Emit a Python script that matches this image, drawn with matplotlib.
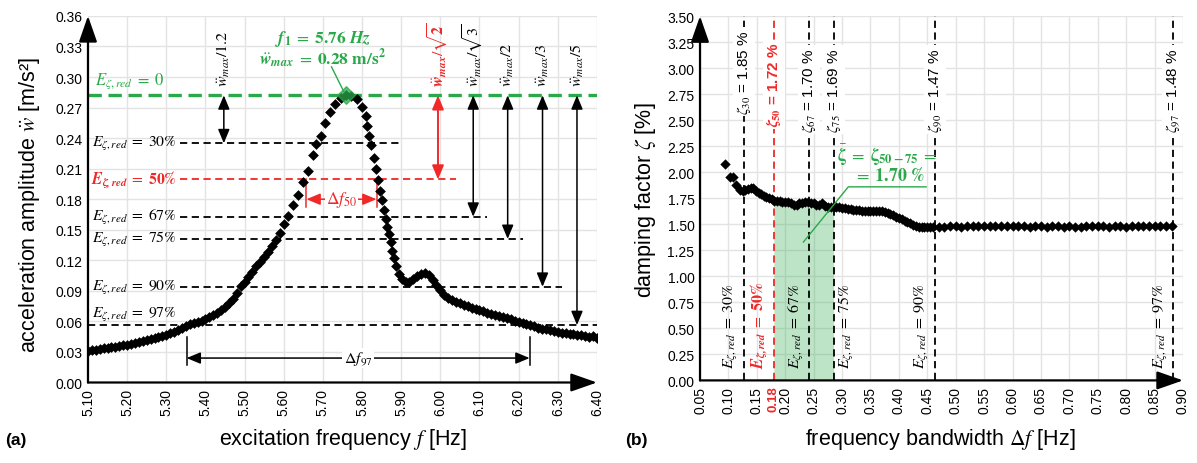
"""Resonance peak (a) and damping factor vs. bandwidth (b)."""

import matplotlib

matplotlib.use("Agg")
import matplotlib.pyplot as plt

plt.rcParams["font.family"] = ["Liberation Sans", "DejaVu Sans"]
plt.rcParams["mathtext.fontset"] = "stix"

GREEN = "#2aa84a"
RED = "#f02828"
GRID = "#e3e3e3"
EQ = r"\;=\;"

# (a) measured acceleration amplitude over excitation frequency
FREQ = [
    5.100, 5.110, 5.120, 5.130, 5.140, 5.150, 5.160, 5.170, 5.180, 5.190,
    5.200, 5.210, 5.220, 5.230, 5.240, 5.250, 5.260, 5.270, 5.280, 5.290,
    5.300, 5.310, 5.320, 5.330, 5.340, 5.350, 5.360, 5.370, 5.380, 5.390,
    5.400, 5.410, 5.420, 5.430, 5.440, 5.450, 5.460, 5.470, 5.480, 5.490,
    5.500, 5.510, 5.520, 5.530, 5.540, 5.550, 5.560, 5.570, 5.580, 5.590,
    5.600, 5.611, 5.624, 5.637, 5.650, 5.663, 5.676, 5.683, 5.694, 5.706,
    5.719, 5.732, 5.745, 5.760, 5.773, 5.786, 5.799, 5.809, 5.812, 5.817,
    5.822, 5.830, 5.835, 5.840, 5.846, 5.850, 5.855, 5.860, 5.864, 5.868,
    5.873, 5.876, 5.881, 5.887, 5.895, 5.903, 5.912, 5.920, 5.930, 5.940,
    5.950, 5.960, 5.970, 5.980, 5.990, 6.000, 6.010, 6.020, 6.030, 6.040,
    6.050, 6.060, 6.070, 6.080, 6.090, 6.100, 6.110, 6.120, 6.130, 6.140,
    6.150, 6.160, 6.170, 6.180, 6.190, 6.200, 6.210, 6.220, 6.230, 6.240,
    6.250, 6.260, 6.270, 6.280, 6.290, 6.300, 6.310, 6.320, 6.330, 6.340,
    6.350, 6.360, 6.370, 6.380, 6.390, 6.400,
]
ACC = [
    0.031, 0.032, 0.032, 0.033, 0.034, 0.034, 0.035, 0.035, 0.036, 0.037,
    0.037, 0.038, 0.039, 0.040, 0.041, 0.042, 0.043, 0.044, 0.045, 0.046,
    0.047, 0.049, 0.050, 0.052, 0.054, 0.055, 0.057, 0.058, 0.059, 0.060,
    0.062, 0.064, 0.066, 0.068, 0.071, 0.074, 0.078, 0.082, 0.088, 0.095,
    0.099, 0.104, 0.109, 0.114, 0.118, 0.123, 0.128, 0.134, 0.140, 0.147,
    0.156, 0.164, 0.174, 0.184, 0.197, 0.208, 0.223, 0.234, 0.242, 0.255,
    0.266, 0.274, 0.279, 0.282, 0.281, 0.278, 0.271, 0.262, 0.252, 0.242,
    0.233, 0.220, 0.210, 0.199, 0.188, 0.179, 0.169, 0.161, 0.153, 0.146,
    0.138, 0.129, 0.122, 0.114, 0.107, 0.102, 0.099, 0.099, 0.102, 0.105,
    0.107, 0.108, 0.106, 0.101, 0.096, 0.091, 0.086, 0.083, 0.081, 0.079,
    0.078, 0.076, 0.075, 0.073, 0.072, 0.071, 0.070, 0.068, 0.067, 0.066,
    0.065, 0.064, 0.063, 0.062, 0.060, 0.059, 0.058, 0.057, 0.056, 0.055,
    0.054, 0.053, 0.053, 0.052, 0.051, 0.050, 0.049, 0.049, 0.048, 0.048,
    0.047, 0.047, 0.046, 0.045, 0.046, 0.044,
]

F_PEAK = 5.76
W_MAX = 0.282
LEVEL_PCT = ["30", "50", "67", "75", "90", "97"]
LEVEL_DIV = [1.2, 2 ** 0.5, 3 ** 0.5, 2.0, 3.0, 5.0]
LEVEL_END = [5.90, 6.04, 6.12, 6.21, 6.31, 6.40]
ARROW_X = [5.447, 5.994, 6.084, 6.172, 6.261, 6.349]
ARROW_TXT = [
    r"$\ddot{w}_{max}/1.2$",
    r"$\ddot{\mathbfit{w}}_{\mathbfit{max}}/\mathbf{\sqrt{2}}$",
    r"$\ddot{w}_{max}/\sqrt{3}$",
    r"$\ddot{w}_{max}/2$",
    r"$\ddot{w}_{max}/3$",
    r"$\ddot{w}_{max}/5$",
]
DF50 = (5.658, 5.837)
DF97 = (5.352, 6.228)

# (b) damping factor over frequency bandwidth
BANDWIDTH = [
    0.094, 0.103, 0.108, 0.114, 0.121, 0.126, 0.130, 0.135, 0.140, 0.144,
    0.149, 0.154, 0.158, 0.163, 0.167, 0.172, 0.176, 0.180, 0.185, 0.190,
    0.195, 0.200, 0.205, 0.210, 0.215, 0.220, 0.225, 0.230, 0.235, 0.240,
    0.245, 0.250, 0.255, 0.260, 0.265, 0.270, 0.275, 0.280, 0.285, 0.290,
    0.295, 0.300, 0.305, 0.310, 0.315, 0.320, 0.325, 0.330, 0.335, 0.340,
    0.345, 0.350, 0.355, 0.360, 0.365, 0.370, 0.375, 0.380, 0.385, 0.390,
    0.395, 0.400, 0.405, 0.410, 0.415, 0.420, 0.425, 0.430, 0.435, 0.440,
    0.445, 0.450, 0.455, 0.460, 0.470, 0.480, 0.490, 0.500, 0.510, 0.520,
    0.530, 0.540, 0.550, 0.560, 0.570, 0.580, 0.590, 0.600, 0.610, 0.620,
    0.630, 0.640, 0.650, 0.660, 0.670, 0.680, 0.690, 0.700, 0.710, 0.720,
    0.730, 0.740, 0.750, 0.760, 0.770, 0.780, 0.790, 0.800, 0.810, 0.820,
    0.830, 0.840, 0.850, 0.860, 0.870, 0.880,
]
ZETA = [
    2.08, 1.95, 1.95, 1.88, 1.83, 1.82, 1.83, 1.84, 1.85, 1.85,
    1.82, 1.80, 1.79, 1.77, 1.76, 1.75, 1.74, 1.72, 1.72, 1.72,
    1.71, 1.71, 1.71, 1.70, 1.69, 1.69, 1.70, 1.70, 1.71, 1.71,
    1.70, 1.70, 1.69, 1.69, 1.70, 1.68, 1.67, 1.67, 1.67, 1.67,
    1.67, 1.66, 1.66, 1.65, 1.65, 1.64, 1.64, 1.64, 1.63, 1.63,
    1.63, 1.63, 1.63, 1.63, 1.63, 1.63, 1.62, 1.61, 1.60, 1.59,
    1.57, 1.56, 1.55, 1.53, 1.52, 1.51, 1.49, 1.48, 1.47, 1.47,
    1.47, 1.47, 1.47, 1.47, 1.47, 1.47, 1.48, 1.48, 1.47, 1.48,
    1.48, 1.48, 1.48, 1.48, 1.48, 1.48, 1.48, 1.48, 1.48, 1.48,
    1.47, 1.48, 1.48, 1.47, 1.48, 1.48, 1.47, 1.48, 1.47, 1.47,
    1.48, 1.48, 1.48, 1.48, 1.47, 1.48, 1.48, 1.47, 1.48, 1.48,
    1.48, 1.48, 1.48, 1.48, 1.48, 1.48,
]
BAND_X = [0.127, 0.180, 0.242, 0.285, 0.463, 0.883]
BAND_ZETA = ["1.85", "1.72", "1.70", "1.69", "1.47", "1.48"]
BAND_SUB = ["30", "50", "67", "75", "90", "97"]
BAND_SIDE = [-1, -1, -1, 1, -1, -1]

AX_ARROW = "-|>,head_length=0.8,head_width=0.28"


def e_label(pct, bold=False):
    if bold:
        return (r"$\mathbfit{E}_{\mathbfit{\zeta,red}}" + EQ
                + r"\mathbf{%s\%%}$" % pct)
    return r"$E_{\zeta,red}" + EQ + r"%s\%%$" % pct


def axis_arrows(ax, x0, x1, y0, y1):
    for spine in ax.spines.values():
        spine.set_visible(False)
    for xy in ((x1, y0), (x0, y1)):
        ax.annotate("", xy=xy, xytext=(x0, y0), annotation_clip=False,
                    arrowprops=dict(arrowstyle=AX_ARROW, color="black",
                                    lw=1.6, mutation_scale=20,
                                    shrinkA=0, shrinkB=0))
    ax.tick_params(length=0, labelsize=10, pad=4)
    ax.tick_params(axis="x", labelrotation=90)
    ax.grid(True, color=GRID, lw=1)
    ax.set_axisbelow(True)


def dbl_arrow(ax, x0, y0, x1, y1, color, lw=1.1):
    ax.annotate("", xy=(x1, y1), xytext=(x0, y0),
                arrowprops=dict(arrowstyle="<|-|>,head_length=0.6,head_width=0.25",
                                color=color, lw=lw, mutation_scale=14,
                                shrinkA=0, shrinkB=0))


def panel_a(ax):
    ax.set_xlim(5.10, 6.40)
    ax.set_ylim(0.0, 0.36)
    ax.set_xticks([5.10 + 0.1 * i for i in range(14)])
    ax.set_yticks([0.03 * i for i in range(13)])
    ax.set_xticklabels([f"{5.10 + 0.1 * i:.2f}" for i in range(14)])
    ax.set_yticklabels([f"{0.03 * i:.2f}" for i in range(13)])
    axis_arrows(ax, 5.10, 6.40, 0.0, 0.36)

    # E = 0 line at the peak
    ax.plot([5.10, 6.40], [W_MAX, W_MAX], color=GREEN, lw=2.4, ls=(0, (4, 2)))
    ax.text(5.118, 0.297, r"$E_{\zeta,red}" + EQ + "0$", color=GREEN,
            fontsize=12, va="center")

    for i, (pct, div, x_end, ax_x, txt) in enumerate(
            zip(LEVEL_PCT, LEVEL_DIV, LEVEL_END, ARROW_X, ARROW_TXT)):
        lvl = W_MAX / div
        red = i == 1
        col = RED if red else "black"
        x_start = 5.10 if pct == "97" else 5.334
        ax.plot([x_start, x_end], [lvl, lvl], color=col, lw=1.3, ls=(0, (4, 2.5)))
        y_lab = 0.067 if pct == "97" else lvl
        ax.text(5.327, y_lab, e_label(pct, red), color=col, fontsize=11.3,
                ha="right", va="center")
        dbl_arrow(ax, ax_x, W_MAX, ax_x, lvl, col, lw=1.4 if red else 1.1)
        ax.text(ax_x, 0.291, txt, color=col, fontsize=11.5, rotation=90,
                ha="center", va="bottom")

    ax.scatter(FREQ, ACC, marker="D", s=30, color="black", zorder=3,
               linewidths=0)
    ax.scatter([F_PEAK], [W_MAX], marker="D", s=80, facecolor=GREEN,
               edgecolor=GREEN, alpha=0.75, zorder=4)
    ax.plot([5.722, 5.753], [0.310, 0.286], color=GREEN, lw=1)
    ax.text(5.70, 0.338,
            r"$\mathbfit{f}_\mathbf{1}" + EQ + r"\mathbf{5.76}\ \mathbfit{Hz}$",
            color=GREEN, fontsize=12.5, ha="center", va="center")
    ax.text(5.70, 0.318,
            r"$\ddot{\mathbfit{w}}_{\mathbfit{max}}" + EQ + r"\mathbf{0.28\ m/s^2}$",
            color=GREEN, fontsize=12.5, ha="center", va="center")

    # bandwidth markers
    for x in DF50:
        ax.plot([x, x], [0.172, W_MAX / LEVEL_DIV[1]], color=RED, lw=1.1)
    dbl_arrow(ax, DF50[0], 0.18, DF50[1], 0.18, RED)
    ax.text(sum(DF50) / 2, 0.18, r"$\Delta f_{50}$", color=RED, fontsize=12.5,
            ha="center", va="center",
            bbox=dict(facecolor="white", edgecolor="none", pad=1))
    for x in DF97:
        ax.plot([x, x], [0.017, 0.0445], color="black", lw=1.1)
    dbl_arrow(ax, DF97[0], 0.024, DF97[1], 0.024, "black")
    ax.text(sum(DF97) / 2, 0.024, r"$\Delta f_{97}$", fontsize=11.5,
            ha="center", va="center",
            bbox=dict(facecolor="white", edgecolor="none", pad=1))


def panel_b(ax):
    ticks = [0.05 * i for i in range(1, 19)]
    ax.set_xlim(0.05, 0.90)
    ax.set_ylim(0.0, 3.5)
    ax.set_xticks(ticks)
    ax.set_xticklabels([f"{t:.2f}" for t in ticks])
    ax.set_yticks([0.25 * i for i in range(15)])
    ax.set_yticklabels([f"{0.25 * i:.2f}" for i in range(15)])
    axis_arrows(ax, 0.05, 0.90, 0.0, 3.5)
    ax.text(0.1785, -0.012, "0.18", transform=ax.get_xaxis_transform(),
            rotation=90, ha="center", va="top", color=RED,
            fontweight="bold", fontsize=9.5)

    band = [(x, z) for x, z in zip(BANDWIDTH, ZETA) if 0.18 <= x <= 0.285]
    ax.fill_between([b[0] for b in band], 0, [b[1] for b in band],
                    color=GREEN, alpha=0.3, lw=0, zorder=1)

    for i, (x, z, sub, side) in enumerate(
            zip(BAND_X, BAND_ZETA, BAND_SUB, BAND_SIDE)):
        red = i == 1
        col = RED if red else "black"
        ax.plot([x, x], [0, 3.5], color=col, lw=1.3, ls=(0, (4, 2.5)), zorder=2)
        if red:
            top = r"$\mathbfit{\zeta}_\mathbf{50}$ = 1.72 %"
            y_top = 3.25
        else:
            top = r"$\zeta_{%s}$ = %s %%" % (sub, z)
            y_top = 3.375 if sub == "30" else 3.20
        ax.text(x, y_top, top, rotation=90, ha="center", va="top", color=col,
                fontsize=11, fontweight="bold" if red else "normal",
                bbox=dict(facecolor="white", edgecolor="none", pad=1.5),
                zorder=3)
        ax.text(x + side * 0.006, 0.12, e_label(sub, red), rotation=90,
                ha="left" if side > 0 else "right", va="bottom", color=col,
                fontsize=11.5)

    ax.scatter(BANDWIDTH, ZETA, marker="D", s=28, color="black", zorder=4,
               linewidths=0)
    ax.plot([0.232, 0.311, 0.448], [1.33, 1.86, 1.86], color=GREEN, lw=1,
            zorder=5)
    ax.text(0.38, 2.17,
            r"$\bar{\mathbf{\zeta}}" + EQ + r"\mathbf{\zeta_{50-75}}" + EQ + "$",
            color=GREEN, fontsize=13, ha="center", va="center", zorder=5)
    ax.text(0.38, 1.97, "$" + EQ + r"\mathbf{1.70\ \%}$", color=GREEN,
            fontsize=13, ha="center", va="center", zorder=5)


def main():
    fig = plt.figure(figsize=(11.97, 4.64), dpi=100)
    ax_a = fig.add_axes([0.0735, 0.1735, 0.4252, 0.79])
    ax_b = fig.add_axes([0.5848, 0.178, 0.4035, 0.785])
    panel_a(ax_a)
    panel_b(ax_b)

    fig.text(30 / 1197, 1 - 205 / 464, r"acceleration amplitude $\ddot{w}$ [m/s²]",
             rotation=90, ha="center", va="center", fontsize=15.5)
    fig.text(645 / 1197, 1 - 200 / 464, r"damping factor $\zeta$ [%]",
             rotation=90, ha="center", va="center", fontsize=15.5)
    fig.text(343 / 1197, 1 - 440 / 464, r"excitation frequency $f$ [Hz]",
             ha="center", va="center", fontsize=15.5)
    fig.text(940 / 1197, 1 - 440 / 464, r"frequency bandwidth $\Delta f$ [Hz]",
             ha="center", va="center", fontsize=15.5)
    fig.text(5 / 1197, 1 - 441 / 464, "(a)", fontweight="bold", fontsize=12.5,
             va="center")
    fig.text(625 / 1197, 1 - 441 / 464, "(b)", fontweight="bold", fontsize=12.5,
             va="center")

    fig.savefig("out.png", dpi=100)
    plt.close(fig)


if __name__ == "__main__":
    main()
